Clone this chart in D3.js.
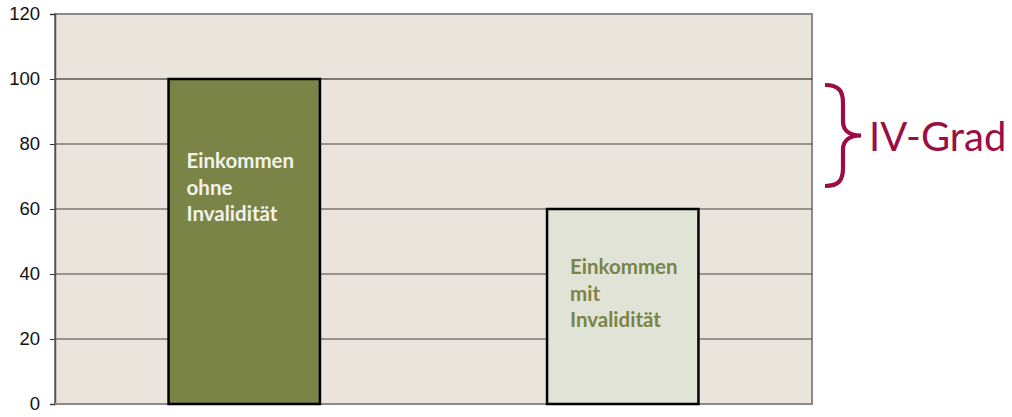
<!DOCTYPE html>
<html><head><meta charset="utf-8">
<script src="https://cdn.jsdelivr.net/npm/d3@7/dist/d3.min.js"></script>
<style>body{margin:0;background:#fff}svg{display:block}</style>
</head><body><svg id="c" width="1012" height="417"></svg>
<script>
const categories = ["ohne", "mit"];
const values = [100, 60];
const barLabels = [["Einkommen","ohne","Invalidität"],["Einkommen","mit","Invalidität"]];
const yTicks = [0,20,40,60,80,100,120];
const annotation = "IV-Grad";

(function(){
const svg = d3.select("#c");
const m = {l:55, r:200, t:14, b:13};
const W = 1012, H = 417;
const x = d3.scaleBand().domain(categories).range([m.l, W - m.r]).paddingInner(0.6).paddingOuter(0.3);
const y = d3.scaleLinear().domain([0,120]).range([H - m.b, m.t]);

svg.append("rect").attr("x", m.l).attr("y", m.t).attr("width", W-m.r-m.l).attr("height", H-m.b-m.t)
  .attr("fill", "#ebe4dc").attr("stroke", "#8a8a8a").attr("stroke-width", 2);

svg.append("g").selectAll("line").data(yTicks.filter(d => d>0 && d<120)).join("line")
  .attr("x1", m.l).attr("x2", W-m.r).attr("y1", d=>y(d)).attr("y2", d=>y(d))
  .attr("stroke", d => d===100 ? "#111" : "#444").attr("stroke-width", 1.2);

const ax = svg.append("g").attr("transform", `translate(${m.l},0)`)
  .call(d3.axisLeft(y).tickValues(yTicks).tickSize(5).tickPadding(10));
ax.select(".domain").attr("stroke", "#555").attr("stroke-width", 1.5);
ax.selectAll(".tick line").attr("stroke", "#333");
ax.selectAll("text").attr("font-family", "Liberation Sans, Arial, sans-serif").attr("font-size", 18.5).attr("fill", "#111");

svg.append("line").attr("x1", m.l).attr("x2", W-m.r).attr("y1", y(0)).attr("y2", y(0)).attr("stroke", "#8a8a8a").attr("stroke-width", 2);

const fills = ["#7a8447", "#e1e3d6"];
const txtFill = ["#f2f2ea", "#7a8447"];
const txtOff = [18, 23];
svg.append("g").selectAll("rect").data(values).join("rect")
  .attr("x", (d,i) => x(categories[i])).attr("width", x.bandwidth())
  .attr("y", d => y(d)).attr("height", d => y(0)-y(d))
  .attr("fill", (d,i) => fills[i]).attr("stroke", "#000").attr("stroke-width", 2.5);

barLabels.forEach((lines, i) => {
  const t = svg.append("text").attr("font-family", "Lato, 'Open Sans', sans-serif").attr("font-weight", "bold")
    .attr("font-size", 20.5).attr("fill", txtFill[i]);
  const x0 = x(categories[i]) + txtOff[i];
  const y0 = i === 0 ? 168 : 274;
  lines.forEach((s, k) => t.append("tspan").attr("x", x0).attr("y", y0 + k*26.5).text(s));
});

const bx = 825, bt = 85, bb = 186, mid = (bt+bb)/2;
const brace = `M${bx},${bt} C${bx+14},${bt} ${bx+18},${bt+6} ${bx+18},${bt+18} L${bx+18},${mid-14} C${bx+18},${mid-4} ${bx+26},${mid} ${bx+36},${mid} C${bx+26},${mid} ${bx+18},${mid+4} ${bx+18},${mid+14} L${bx+18},${bb-18} C${bx+18},${bb-6} ${bx+14},${bb} ${bx},${bb}`;
svg.append("path").attr("d", brace).attr("fill", "none").attr("stroke", "#9b0d44").attr("stroke-width", 4.2);
svg.append("text").attr("x", 869).attr("y", 151).attr("font-family", "Lato, 'Open Sans', sans-serif")
  .attr("font-size", 40).attr("fill", "#9b0d44").text(annotation);
})();
</script></body></html>
